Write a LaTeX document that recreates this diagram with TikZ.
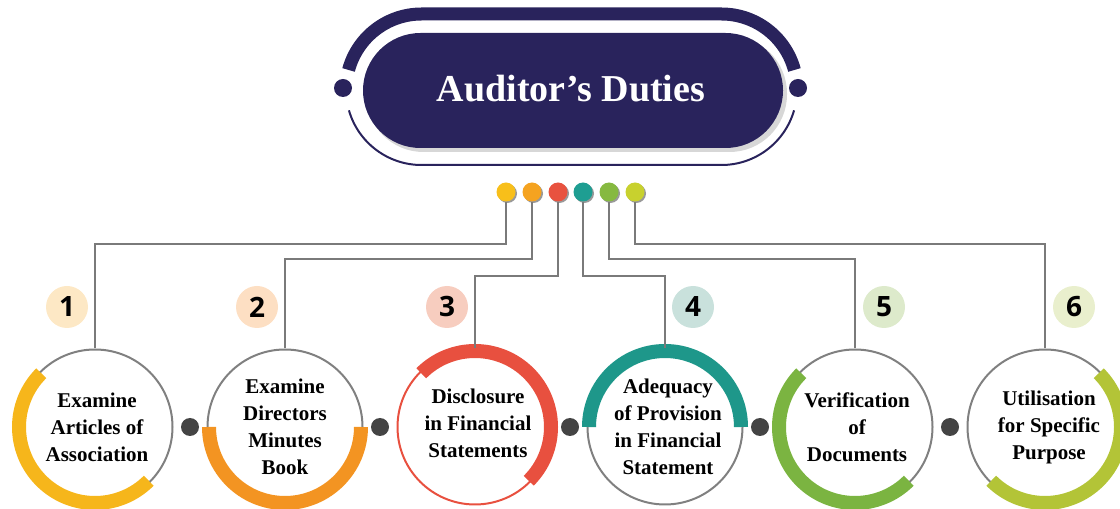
\documentclass[tikz,border=0pt]{standalone}
\usepackage{fontspec}
\setmainfont{Liberation Serif}
\newfontfamily\numfont{Open Sans}
\definecolor{navy}{HTML}{29235C}
\definecolor{cA}{HTML}{F6B61B}
\definecolor{cB}{HTML}{F39422}
\definecolor{cC}{HTML}{E8503F}
\definecolor{cD}{HTML}{1E978A}
\definecolor{cE}{HTML}{7BB441}
\definecolor{cF}{HTML}{B3C437}
\definecolor{dA}{HTML}{F8BF1A}
\definecolor{dB}{HTML}{F5A320}
\definecolor{dC}{HTML}{E8523F}
\definecolor{dD}{HTML}{1E9E92}
\definecolor{dE}{HTML}{86B940}
\definecolor{dF}{HTML}{C8D12E}
\definecolor{nA}{HTML}{FDE8C5}
\definecolor{nB}{HTML}{FDDFC3}
\definecolor{nC}{HTML}{F7CDBF}
\definecolor{nD}{HTML}{C9E1DC}
\definecolor{nE}{HTML}{DDEACB}
\definecolor{nF}{HTML}{E9EFCD}
\definecolor{lineg}{HTML}{7A7A7A}
\definecolor{circg}{HTML}{808080}
\definecolor{dotd}{HTML}{444444}
\begin{document}
\begin{tikzpicture}[x=0.5pt,y=0.5pt,
  conn/.style={draw=lineg, line width=1pt},
  circ/.style={circle, draw=circg, line width=1pt, minimum size=77.5pt, inner sep=0pt},
  arcst/.style={line width=7pt},
  numc/.style={circle, minimum size=21pt, inner sep=0pt, font=\numfont\bfseries\fontsize{14}{14}\selectfont},
  cdot/.style={circle, minimum size=9.5pt, inner sep=0pt},
  sdot/.style={circle, fill=dotd, minimum size=9pt, inner sep=0pt},
  txt/.style={align=center, font=\bfseries\fontsize{10.5}{13.5}\selectfont, inner sep=0pt}]
\useasboundingbox (0,0) rectangle (1120,509);
\clip (0,0) rectangle (1120,509);
% title frame
\draw[navy, line width=6.5pt] (421.5,419.5) ++(165:75.5) arc[start angle=165, end angle=90, radius=75.5] -- (721.5,495) arc[start angle=90, end angle=15, radius=75.5];
\draw[navy, line width=1pt] (421.5,419.5) ++(196:75.5) arc[start angle=196, end angle=270, radius=75.5] -- (721.5,344) arc[start angle=270, end angle=344, radius=75.5];
\node[circle, fill=navy, minimum size=9pt, inner sep=0pt] (fl) at (343,421) {};
\node[circle, fill=navy, minimum size=9pt, inner sep=0pt] (fr) at (798,421) {};
\fill[black!35, opacity=.45, rounded corners=28.75pt] (366,473) rectangle (787,357);
\fill[navy, rounded corners=28.75pt] (363,476) rectangle (783,361);
\node[text=white, font=\bfseries\fontsize{19}{20}\selectfont] (title) at (571,420) {Auditor’s Duties};
% circles
\node[circ] (c1) at (95,82) {};
\node[circ] (c2) at (285,82) {};
\node[circ, draw=cC] (c3) at (475,82) {};
\node[circ] (c4) at (665,82) {};
\node[circ] (c5) at (855,82) {};
\node[circ] (c6) at (1045,82) {};
\draw[arcst, cA] (c1.center) ++(135:76) arc[start angle=135, end angle=315, radius=76];
\draw[arcst, cB] (c2.center) ++(180:76) arc[start angle=180, end angle=360, radius=76];
\draw[arcst, cC] (c3.center) ++(135:76) arc[start angle=135, end angle=-45, radius=76];
\draw[arcst, cD] (c4.center) ++(0:76) arc[start angle=0, end angle=180, radius=76];
\draw[arcst, cE] (c5.center) ++(135:76) arc[start angle=135, end angle=315, radius=76];
\draw[arcst, cF] (c6.center) ++(45:76) arc[start angle=45, end angle=-135, radius=76];
% texts
\node[txt] (t1) at (97,82) {Examine\\Articles of\\Association};
\node[txt] (t2) at (285,82) {Examine\\Directors\\Minutes\\Book};
\node[txt] (t3) at (478,86) {Disclosure\\in Financial\\Statements};
\node[txt] (t4) at (668,82) {Adequacy\\of Provision\\in Financial\\Statement};
\node[txt] (t5) at (857,82) {Verification\\of\\Documents};
\node[txt] (t6) at (1049,82) {Utilisation\\for Specific\\Purpose};
% small dots between circles
\node[sdot] (s1) at (190,82) {};
\node[sdot] (s2) at (380,82) {};
\node[sdot] (s3) at (570,82) {};
\node[sdot] (s4) at (760,82) {};
\node[sdot] (s5) at (950,82) {};
% number badges
\node[numc, fill=nA] (n1) at (67,202) {1};
\node[numc, fill=nB] (n2) at (257,202) {2};
\node[numc, fill=nC] (n3) at (447,202) {3};
\node[numc, fill=nD] (n4) at (693,202) {4};
\node[numc, fill=nE] (n5) at (884,202) {5};
\node[numc, fill=nF] (n6) at (1074,202) {6};
% coloured dots
\coordinate (h1) at (0,265);
\coordinate (h2) at (0,250);
\coordinate (h3) at (0,233);
\foreach \x in {506,532,558,583,609,635}{
  \fill[black!40] (\x+1.5,315.5) circle[radius=9.5];
}
\node[cdot, fill=dA] (d1) at (506,317) {};
\node[cdot, fill=dB] (d2) at (532,317) {};
\node[cdot, fill=dC] (d3) at (558,317) {};
\node[cdot, fill=dD] (d4) at (583,317) {};
\node[cdot, fill=dE] (d5) at (609,317) {};
\node[cdot, fill=dF] (d6) at (635,317) {};
\draw[conn] (d1.south) -- (d1.south |- h1) -| (c1.north);
\draw[conn] (d2.south) -- (d2.south |- h2) -| (c2.north);
\draw[conn] (d3.south) -- (d3.south |- h3) -| (c3.north);
\draw[conn] (d4.south) -- (d4.south |- h3) -| (c4.north);
\draw[conn] (d5.south) -- (d5.south |- h2) -| (c5.north);
\draw[conn] (d6.south) -- (d6.south |- h1) -| (c6.north);
\end{tikzpicture}
\end{document}
